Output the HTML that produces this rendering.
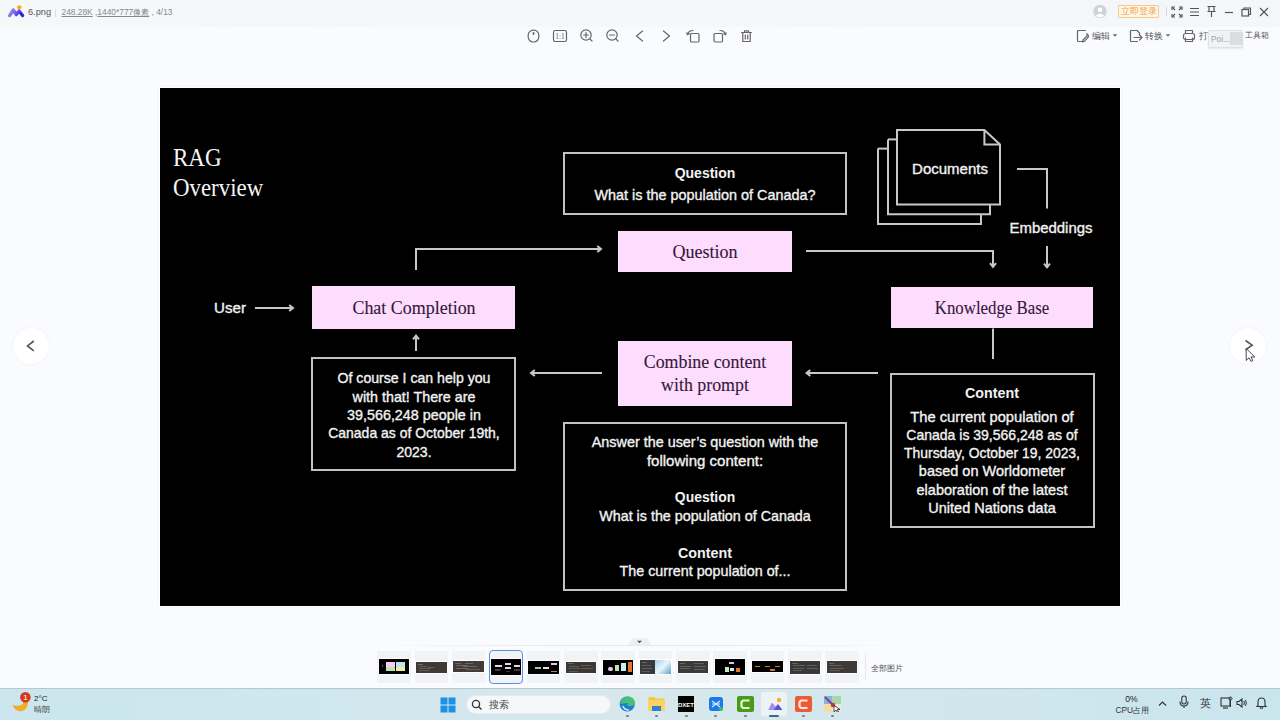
<!DOCTYPE html>
<html><head><meta charset="utf-8"><style>
html,body{margin:0;padding:0;}
body{width:1280px;height:720px;overflow:hidden;position:relative;background:#fafbfe;font-family:'Liberation Sans', sans-serif;}
.t{position:absolute;white-space:nowrap;}
.sw{-webkit-text-stroke:0.35px currentColor;}
.sf{-webkit-text-stroke:0.1px currentColor;}
</style></head><body>
<div style="position:absolute;left:0px;top:0px;width:1280px;height:27px;box-sizing:border-box;background:linear-gradient(90deg,#f6f7f9 0%,#f4f8fa 30%,#f4f8f8 60%,#f4f7fa 100%);"></div><svg style="position:absolute;left:4px;top:2px;" width="24" height="18" viewBox="0 0 24 18"><defs><linearGradient id="lg1" x1="0" x2="1" y1="0" y2="0.3"><stop offset="0" stop-color="#958cf4"/><stop offset="0.55" stop-color="#6f62ee"/><stop offset="1" stop-color="#3424c8"/></linearGradient></defs><circle cx="15.3" cy="5.3" r="2.1" fill="#f7a81b"/><path d="M5.6 13.6 L9.3 8 L12.3 12.6 L15 9 L18.6 13.6" fill="none" stroke="url(#lg1)" stroke-width="3.3" stroke-linejoin="round" stroke-linecap="round"/></svg><div style="position:absolute;left:28px;top:8.3px;font-size:9.2px;line-height:9.2px;color:#555;white-space:nowrap;">6.png</div><div style="position:absolute;left:55px;top:9px;width:1px;height:8px;box-sizing:border-box;background:#dcdde0;"></div><div style="position:absolute;left:61.5px;top:8.3px;font-size:8.4px;line-height:8.4px;color:#85888c;white-space:nowrap;"><u>248.28K</u> ,<u>1440*777像素</u> , 4/13</div><svg style="position:absolute;left:1092px;top:4px;" width="16" height="15" viewBox="0 0 16 15"><circle cx="8" cy="7.4" r="6.7" fill="#cdd1d8"/><circle cx="8" cy="5.8" r="2.4" fill="#fff"/><path d="M3.6 11.8 Q8 7.6 12.4 11.8 Q8 14.8 3.6 11.8Z" fill="#fff"/></svg><div style="position:absolute;left:1118.3px;top:5.2px;width:40.3px;height:13.2px;box-sizing:border-box;border:1px solid #f7c98a;background:#fff6e8;border-radius:1px;"></div><div style="position:absolute;left:1121px;top:6.5px;font-size:9px;line-height:9px;color:#f0a43a;white-space:nowrap;">立即登录</div><div style="position:absolute;left:1165.5px;top:7px;width:1px;height:9px;box-sizing:border-box;background:#d8d9dc;"></div><svg style="position:absolute;left:1171px;top:6px;" width="12" height="12" viewBox="0 0 12 12"><g fill="none" stroke="#555" stroke-width="1.2"><path d="M1 4V1H4M8 1H11V4M11 8V11H8M4 11H1V8"/><path d="M1.5 1.5L4 4M10.5 1.5L8 4M10.5 10.5L8 8M1.5 10.5L4 8"/></g></svg><svg style="position:absolute;left:1189px;top:6px;" width="11" height="12" viewBox="0 0 11 12"><g fill="none" stroke="#555" stroke-width="1.2"><path d="M1 2.5H10M1 6H10M1 9.5H10"/></g></svg><svg style="position:absolute;left:1206px;top:5px;" width="11" height="13" viewBox="0 0 11 13"><g fill="none" stroke="#555" stroke-width="1.2"><path d="M1.5 1.5H9.5M3 1.5V6M8 1.5V6M1.5 6.5H9.5M5.5 6.5V12"/></g></svg><svg style="position:absolute;left:1224px;top:6px;" width="10" height="12" viewBox="0 0 10 12"><g fill="none" stroke="#555" stroke-width="1.2"><path d="M1 6.5H9"/></g></svg><svg style="position:absolute;left:1241px;top:7px;" width="11" height="10" viewBox="0 0 11 10"><g fill="none" stroke="#555" stroke-width="1.2"><rect x="1" y="2.5" width="6.5" height="6.5"/><path d="M3 2.5V1H9.5V7.5H7.5"/></g></svg><svg style="position:absolute;left:1258px;top:6px;" width="12" height="12" viewBox="0 0 12 12"><g fill="none" stroke="#555" stroke-width="1.2"><path d="M2 2L10 10M10 2L2 10"/></g></svg><svg style="position:absolute;left:526px;top:28px;" width="15" height="16" viewBox="0 0 15 16"><g fill="none" stroke="#666" stroke-width="1.2" stroke-linecap="round" stroke-linejoin="round"><rect x="2.2" y="2.2" width="10.6" height="11.8" rx="5"/><path d="M7.5 4.5V6.5"/></g><circle cx="7.5" cy="5.5" r="1" fill="#666"/></svg><svg style="position:absolute;left:552px;top:28px;" width="16" height="16" viewBox="0 0 16 16"><g fill="none" stroke="#666" stroke-width="1.2" stroke-linecap="round" stroke-linejoin="round"><rect x="1.5" y="2.5" width="13" height="11" rx="1.8"/></g><text x="8" y="11.3" font-size="7.5" text-anchor="middle" fill="#666" font-family="Liberation Serif">1:1</text></svg><svg style="position:absolute;left:579px;top:28px;" width="16" height="16" viewBox="0 0 16 16"><g fill="none" stroke="#666" stroke-width="1.2" stroke-linecap="round" stroke-linejoin="round"><circle cx="7" cy="7" r="5.2"/><path d="M7 4.6V9.4M4.6 7H9.4M10.8 10.8L13 13"/></g></svg><svg style="position:absolute;left:605px;top:28px;" width="16" height="16" viewBox="0 0 16 16"><g fill="none" stroke="#666" stroke-width="1.2" stroke-linecap="round" stroke-linejoin="round"><circle cx="7" cy="7" r="5.2"/><path d="M4.6 7H9.4M10.8 10.8L13 13"/></g></svg><svg style="position:absolute;left:632px;top:28px;" width="15" height="16" viewBox="0 0 15 16"><g fill="none" stroke="#666" stroke-width="1.2" stroke-linecap="round" stroke-linejoin="round"><path d="M10.5 3L4.5 8L10.5 13"/></g></svg><svg style="position:absolute;left:659px;top:28px;" width="15" height="16" viewBox="0 0 15 16"><g fill="none" stroke="#666" stroke-width="1.2" stroke-linecap="round" stroke-linejoin="round"><path d="M4.5 3L10.5 8L4.5 13"/></g></svg><svg style="position:absolute;left:685px;top:28px;" width="16" height="16" viewBox="0 0 16 16"><g fill="none" stroke="#666" stroke-width="1.2" stroke-linecap="round" stroke-linejoin="round"><rect x="5.5" y="5.5" width="8.5" height="8.5" rx="1.2"/><path d="M2.5 6.5 Q3.5 2.5 8 2.5"/><path d="M1.8 4.8 L2.5 6.8 L4.3 5.6"/></g></svg><svg style="position:absolute;left:712px;top:28px;" width="16" height="16" viewBox="0 0 16 16"><g fill="none" stroke="#666" stroke-width="1.2" stroke-linecap="round" stroke-linejoin="round"><rect x="2" y="5.5" width="8.5" height="8.5" rx="1.2"/><path d="M13.5 6.5 Q12.5 2.5 8 2.5"/><path d="M14.2 4.8 L13.5 6.8 L11.7 5.6"/></g></svg><svg style="position:absolute;left:739px;top:28px;" width="15" height="16" viewBox="0 0 15 16"><g fill="none" stroke="#666" stroke-width="1.2" stroke-linecap="round" stroke-linejoin="round"><path d="M2.5 4.5H12.5M5.5 4.5V2.8H9.5V4.5M3.8 4.5V13.5H11.2V4.5M6.3 7V11M8.7 7V11"/></g></svg><svg style="position:absolute;left:1076px;top:29px;" width="13" height="14" viewBox="0 0 13 14"><g fill="none" stroke="#666" stroke-width="1.2" stroke-linecap="round" stroke-linejoin="round"><path d="M9.5 1.5H2.5Q1.5 1.5 1.5 2.5V11.5Q1.5 12.5 2.5 12.5H6"/><path d="M11 4.5V6"/><path d="M12 6L7 11L6.5 12.8L8.3 12.3L13 7.5Z"/></g></svg><div style="position:absolute;left:1092px;top:31.6px;font-size:8.9px;line-height:8.9px;color:#555;white-space:nowrap;">编辑</div><svg style="position:absolute;left:1112px;top:33px;" width="6" height="5" viewBox="0 0 6 5"><path d="M0.8 1.2H5.2L3 3.8Z" fill="#666"/></svg><svg style="position:absolute;left:1129px;top:29px;" width="15" height="14" viewBox="0 0 15 14"><g fill="none" stroke="#666" stroke-width="1.2" stroke-linecap="round" stroke-linejoin="round"><path d="M8 1.5H2.5Q1.5 1.5 1.5 2.5V11.5Q1.5 12.5 2.5 12.5H8.5"/><path d="M8 1.5L10.5 4V6"/><path d="M5 8.5H13M10.5 6L13 8.5L10.5 11"/></g></svg><div style="position:absolute;left:1144.6px;top:31.6px;font-size:8.9px;line-height:8.9px;color:#555;white-space:nowrap;">转换</div><svg style="position:absolute;left:1165px;top:33px;" width="6" height="5" viewBox="0 0 6 5"><path d="M0.8 1.2H5.2L3 3.8Z" fill="#666"/></svg><svg style="position:absolute;left:1182px;top:29px;" width="14" height="14" viewBox="0 0 14 14"><g fill="none" stroke="#666" stroke-width="1.2" stroke-linecap="round" stroke-linejoin="round"><path d="M3.5 4.5V1.5H10.5V4.5"/><rect x="1.5" y="4.5" width="11" height="6" rx="2"/><path d="M3.5 9V12.5H10.5V9"/></g></svg><div style="position:absolute;left:1198.5px;top:31.6px;font-size:8.9px;line-height:8.9px;color:#555;white-space:nowrap;">打印</div><div style="position:absolute;left:1208.3px;top:30.2px;width:34.7px;height:17.5px;box-sizing:border-box;background:#f1f2f3;border:1px solid #dfe1e4;border-radius:2px;box-shadow:0 1px 2px rgba(0,0,0,0.08);"></div><div style="position:absolute;left:1211px;top:34.6px;font-size:8.3px;line-height:8.3px;color:#a0a0a0;white-space:nowrap;">Poi...</div><div style="position:absolute;left:1230px;top:32px;width:12.5px;height:13px;box-sizing:border-box;background:#dcdddf;"></div><div style="position:absolute;left:1244.5px;top:31.8px;font-size:8.2px;line-height:8.2px;color:#555;white-space:nowrap;">工具箱</div><div style="position:absolute;left:13px;top:328px;width:36px;height:36px;box-sizing:border-box;border-radius:50%;background:#fff;box-shadow:0 0 3px rgba(0,0,0,0.06);"></div><svg style="position:absolute;left:24px;top:338px;" width="14" height="16" viewBox="0 0 14 16"><path d="M9.8 3L3.5 7.9L9.8 12.8" fill="none" stroke="#555" stroke-width="1.6"/></svg><div style="position:absolute;left:1230.4px;top:327.5px;width:36px;height:36px;box-sizing:border-box;border-radius:50%;background:#fff;box-shadow:0 0 3px rgba(0,0,0,0.06);"></div><svg style="position:absolute;left:1242px;top:337px;" width="14" height="16" viewBox="0 0 14 16"><path d="M3.5 3.5L10.2 8.2L3.5 12.8" fill="none" stroke="#555" stroke-width="1.6"/></svg><svg style="position:absolute;left:1245px;top:347px;" width="12" height="16" viewBox="0 0 12 16"><path d="M1.2 1.5V13.5L4 10.8L6 14.5L7.8 13.6L6 10H9.8Z" fill="#fff" stroke="#333" stroke-width="0.9"/></svg><svg style="position:absolute;left:626px;top:637px" width="27" height="9"><path d="M1.5 8.5 L6 1.5 H21 L25.5 8.5Z" fill="#eceef2"/><path d="M11 3.8H16L13.5 6.3Z" fill="#555"/></svg><div style="position:absolute;left:360px;top:645px;width:560px;height:1px;box-sizing:border-box;background:linear-gradient(90deg,rgba(228,231,236,0) 0%,#e6e9ed 35%,#e6e9ed 65%,rgba(228,231,236,0) 100%);"></div><div style="position:absolute;left:377.25px;top:651.3px;width:33.5px;height:31.5px;box-sizing:border-box;background:#f2f3f5;"></div><div style="position:absolute;left:378.75px;top:659px;width:30.5px;height:15.4px;box-sizing:border-box;background:#000;overflow:hidden;box-shadow:0 0 0 1px #fff;"><div style="position:absolute;left:7.5px;top:3px;width:9px;height:4.6px;background:#f6cdf0;"></div><div style="position:absolute;left:16.8px;top:3px;width:9px;height:4.6px;background:#bfe2f4;"></div><div style="position:absolute;left:7.5px;top:7.9px;width:9px;height:4.6px;background:#b9e6ae;"></div><div style="position:absolute;left:16.8px;top:7.9px;width:9px;height:4.6px;background:#f4ec9c;"></div><div style="position:absolute;left:3px;top:6px;width:1.5px;height:2px;background:#555;"></div></div><div style="position:absolute;left:414.6px;top:651.3px;width:33.5px;height:31.5px;box-sizing:border-box;background:#f2f3f5;"></div><div style="position:absolute;left:416.1px;top:662px;width:30.5px;height:10.5px;box-sizing:border-box;background:#403a37;overflow:hidden;box-shadow:0 0 0 1px #fff;"><div style="position:absolute;left:1.5px;top:1.5px;width:5px;height:1px;background:rgba(195,190,185,0.40)"></div><div style="position:absolute;left:3px;top:4px;width:8px;height:1px;background:rgba(195,190,185,0.28)"></div><div style="position:absolute;left:12px;top:4.5px;width:6px;height:1px;background:rgba(195,190,185,0.28)"></div><div style="position:absolute;left:3px;top:6px;width:12px;height:1px;background:rgba(195,190,185,0.24)"></div><div style="position:absolute;left:3px;top:8px;width:10px;height:1px;background:rgba(195,190,185,0.24)"></div></div><div style="position:absolute;left:451.95px;top:651.3px;width:33.5px;height:31.5px;box-sizing:border-box;background:#f2f3f5;"></div><div style="position:absolute;left:453.45px;top:661px;width:30.5px;height:11px;box-sizing:border-box;background:#423d38;overflow:hidden;box-shadow:0 0 0 1px #fff;"><div style="position:absolute;left:2px;top:1.5px;width:6px;height:1px;background:rgba(195,190,185,0.32)"></div><div style="position:absolute;left:12px;top:1.5px;width:8px;height:1px;background:rgba(195,190,185,0.32)"></div><div style="position:absolute;left:3px;top:4px;width:12px;height:1px;background:rgba(195,190,185,0.32)"></div><div style="position:absolute;left:10px;top:5px;width:14px;height:1px;background:rgba(195,190,185,0.32)"></div><div style="position:absolute;left:3px;top:7px;width:12px;height:1px;background:rgba(195,190,185,0.32)"></div><div style="position:absolute;left:13px;top:8px;width:14px;height:1px;background:rgba(195,190,185,0.28)"></div></div><div style="position:absolute;left:489.3px;top:651.3px;width:33.5px;height:31.5px;box-sizing:border-box;background:#f2f3f5;"></div><div style="position:absolute;left:490.8px;top:659px;width:30.5px;height:16px;box-sizing:border-box;background:#000;overflow:hidden;box-shadow:0 0 0 1px #fff;"><div style="position:absolute;left:4px;top:5.8px;width:7px;height:2.2px;background:#e8d4e6;"></div><div style="position:absolute;left:14px;top:4px;width:6px;height:2px;background:#e8d4e6;"></div><div style="position:absolute;left:14px;top:8px;width:6px;height:2px;background:#e8d4e6;"></div><div style="position:absolute;left:23px;top:5.8px;width:6.5px;height:2.2px;background:#e8d4e6;"></div><div style="position:absolute;left:4.5px;top:9.5px;width:6px;height:1px;background:#444;"></div><div style="position:absolute;left:4.5px;top:11px;width:5px;height:1px;background:#3a3a3a;"></div><div style="position:absolute;left:23.5px;top:9.5px;width:6px;height:2.5px;background:#3a3a3a;"></div><div style="position:absolute;left:15px;top:11.5px;width:4px;height:1px;background:#3a3a3a;"></div></div><div style="position:absolute;left:526.65px;top:651.3px;width:33.5px;height:31.5px;box-sizing:border-box;background:#f2f3f5;"></div><div style="position:absolute;left:528.15px;top:660.7px;width:30.5px;height:13.2px;box-sizing:border-box;background:#000;overflow:hidden;box-shadow:0 0 0 1px #fff;"><div style="position:absolute;left:7px;top:6px;width:6px;height:2px;background:#a8c8a0"></div><div style="position:absolute;left:15px;top:6px;width:6px;height:2px;background:#e8e0e8"></div><div style="position:absolute;left:23px;top:2px;width:6px;height:2px;background:#e8c8e8"></div><div style="position:absolute;left:23px;top:10px;width:6px;height:1px;background:#c87a30"></div></div><div style="position:absolute;left:564.0px;top:651.3px;width:33.5px;height:31.5px;box-sizing:border-box;background:#f2f3f5;"></div><div style="position:absolute;left:565.5px;top:661.5px;width:30.5px;height:11.5px;box-sizing:border-box;background:#3c3835;overflow:hidden;box-shadow:0 0 0 1px #fff;"><div style="position:absolute;left:2px;top:1.5px;width:6px;height:1px;background:rgba(195,190,185,0.32)"></div><div style="position:absolute;left:3px;top:4px;width:10px;height:1px;background:rgba(195,190,185,0.28)"></div><div style="position:absolute;left:15px;top:3px;width:10px;height:1px;background:rgba(195,190,185,0.28)"></div><div style="position:absolute;left:3px;top:6.5px;width:11px;height:1px;background:rgba(195,190,185,0.28)"></div><div style="position:absolute;left:15px;top:6px;width:12px;height:1px;background:rgba(195,190,185,0.28)"></div><div style="position:absolute;left:3px;top:9px;width:9px;height:1px;background:rgba(195,190,185,0.24)"></div></div><div style="position:absolute;left:601.35px;top:651.3px;width:33.5px;height:31.5px;box-sizing:border-box;background:#f2f3f5;"></div><div style="position:absolute;left:602.85px;top:660px;width:30.5px;height:14.8px;box-sizing:border-box;background:#000;overflow:hidden;box-shadow:0 0 0 1px #fff;"><div style="position:absolute;left:5px;top:7px;width:5px;height:4px;background:#f0c8f0;border-radius:2px"></div><div style="position:absolute;left:12px;top:5px;width:4px;height:6px;background:#b8e8b0"></div><div style="position:absolute;left:18px;top:3px;width:5px;height:8px;background:#c8f0f8"></div><div style="position:absolute;left:25px;top:2px;width:4px;height:10px;background:#e07828"></div></div><div style="position:absolute;left:638.7px;top:651.3px;width:33.5px;height:31.5px;box-sizing:border-box;background:#f2f3f5;"></div><div style="position:absolute;left:640.2px;top:660px;width:30.5px;height:14px;box-sizing:border-box;background:#3a3a3a;overflow:hidden;box-shadow:0 0 0 1px #fff;"><div style="position:absolute;left:15px;top:0;width:15.5px;height:14px;background:linear-gradient(135deg,#9fd0ee,#e9f6fb 50%,#5aa0d0)"></div><div style="position:absolute;left:1.5px;top:2px;width:5px;height:1px;background:rgba(195,190,185,0.32)"></div><div style="position:absolute;left:2px;top:5px;width:9px;height:1px;background:rgba(195,190,185,0.28)"></div><div style="position:absolute;left:2px;top:8px;width:10px;height:1px;background:rgba(195,190,185,0.28)"></div><div style="position:absolute;left:2px;top:10.5px;width:8px;height:1px;background:rgba(195,190,185,0.24)"></div></div><div style="position:absolute;left:676.05px;top:651.3px;width:33.5px;height:31.5px;box-sizing:border-box;background:#f2f3f5;"></div><div style="position:absolute;left:677.55px;top:661px;width:30.5px;height:12px;box-sizing:border-box;background:#3c3a38;overflow:hidden;box-shadow:0 0 0 1px #fff;"><div style="position:absolute;left:2px;top:1.5px;width:5px;height:1px;background:rgba(195,190,185,0.32)"></div><div style="position:absolute;left:16px;top:2px;width:10px;height:1px;background:rgba(195,190,185,0.28)"></div><div style="position:absolute;left:2px;top:4.5px;width:11px;height:1px;background:rgba(195,190,185,0.28)"></div><div style="position:absolute;left:16px;top:5px;width:12px;height:1px;background:rgba(195,190,185,0.28)"></div><div style="position:absolute;left:2px;top:7px;width:10px;height:1px;background:rgba(195,190,185,0.28)"></div><div style="position:absolute;left:16px;top:8px;width:11px;height:1px;background:rgba(195,190,185,0.28)"></div></div><div style="position:absolute;left:713.4000000000001px;top:651.3px;width:33.5px;height:31.5px;box-sizing:border-box;background:#f2f3f5;"></div><div style="position:absolute;left:714.9000000000001px;top:659px;width:30.5px;height:15.8px;box-sizing:border-box;background:#000;overflow:hidden;box-shadow:0 0 0 1px #fff;"><div style="position:absolute;left:14px;top:3px;width:5px;height:2px;background:#e8c0e8"></div><div style="position:absolute;left:10px;top:8px;width:4px;height:5px;background:#c8e8c0"></div><div style="position:absolute;left:15px;top:9px;width:4px;height:3px;background:#d0f0f0"></div><div style="position:absolute;left:21px;top:8.5px;width:4px;height:4px;background:#e07828"></div></div><div style="position:absolute;left:750.75px;top:651.3px;width:33.5px;height:31.5px;box-sizing:border-box;background:#f2f3f5;"></div><div style="position:absolute;left:752.25px;top:661.4px;width:30.5px;height:10.6px;box-sizing:border-box;background:#000;overflow:hidden;box-shadow:0 0 0 1px #fff;"><div style="position:absolute;left:3px;top:4.5px;width:5px;height:1.5px;background:#d07a28"></div><div style="position:absolute;left:13px;top:4.5px;width:5px;height:1.5px;background:#d07a28"></div><div style="position:absolute;left:23px;top:4.5px;width:5px;height:1.5px;background:#d07a28"></div><div style="position:absolute;left:18px;top:8px;width:5px;height:1.5px;background:#d07a28"></div></div><div style="position:absolute;left:788.1px;top:651.3px;width:33.5px;height:31.5px;box-sizing:border-box;background:#f2f3f5;"></div><div style="position:absolute;left:789.6px;top:661px;width:30.5px;height:12.7px;box-sizing:border-box;background:#3b3937;overflow:hidden;box-shadow:0 0 0 1px #fff;"><div style="position:absolute;left:2px;top:1.5px;width:6px;height:1px;background:rgba(195,190,185,0.32)"></div><div style="position:absolute;left:3px;top:4px;width:12px;height:1px;background:rgba(195,190,185,0.28)"></div><div style="position:absolute;left:17px;top:4px;width:10px;height:1px;background:rgba(195,190,185,0.28)"></div><div style="position:absolute;left:3px;top:6.5px;width:11px;height:1px;background:rgba(195,190,185,0.28)"></div><div style="position:absolute;left:17px;top:7px;width:11px;height:1px;background:rgba(195,190,185,0.28)"></div><div style="position:absolute;left:3px;top:9px;width:9px;height:1px;background:rgba(195,190,185,0.24)"></div></div><div style="position:absolute;left:825.45px;top:651.3px;width:33.5px;height:31.5px;box-sizing:border-box;background:#f2f3f5;"></div><div style="position:absolute;left:826.95px;top:661px;width:30.5px;height:12px;box-sizing:border-box;background:#3e3a36;overflow:hidden;box-shadow:0 0 0 1px #fff;"><div style="position:absolute;left:2px;top:1.5px;width:5px;height:1px;background:rgba(195,190,185,0.32)"></div><div style="position:absolute;left:3px;top:4px;width:12px;height:1px;background:rgba(195,190,185,0.28)"></div><div style="position:absolute;left:3px;top:6.5px;width:14px;height:1px;background:rgba(195,190,185,0.28)"></div><div style="position:absolute;left:3px;top:9px;width:10px;height:1px;background:rgba(195,190,185,0.24)"></div></div><div style="position:absolute;left:488.75px;top:650.25px;width:34px;height:34.2px;box-sizing:border-box;border:1.5px solid #5b8def;border-radius:4px;"></div><div style="position:absolute;left:864.5px;top:653px;width:1px;height:27px;box-sizing:border-box;background:#e8e9ec;"></div><div style="position:absolute;left:870.5px;top:664.5px;font-size:8px;line-height:8px;color:#555;white-space:nowrap;">全部图片</div><div style="position:absolute;left:0px;top:688px;width:1280px;height:32px;box-sizing:border-box;background:linear-gradient(90deg,#cbe6ee 0%,#d0e7ee 30%,#d8e8ec 50%,#d2e7ed 70%,#c9e5ed 100%);border-top:1px solid #b9c6cc;"></div><svg style="position:absolute;left:0px;top:688px;" width="40" height="32" viewBox="0 0 40 32"><defs><linearGradient id="wg" x1="0" y1="0" x2="1" y2="1"><stop offset="0" stop-color="#f59a2a"/><stop offset="1" stop-color="#f2b81f"/></linearGradient></defs><path d="M12.5 17.2 Q16 24.5 22.5 23 Q27.8 21 28.2 14 L23.5 13.5 Q23 19.5 12.5 17.2Z" fill="url(#wg)"/><circle cx="25.4" cy="9.3" r="5.3" fill="#d23b1c"/><text x="25.6" y="12.2" font-size="8" text-anchor="middle" fill="#fff" font-family="Liberation Sans">1</text></svg><div style="position:absolute;left:34px;top:694.5px;font-size:8px;line-height:8px;color:#222;white-space:nowrap;">2°C</div><div style="position:absolute;left:34px;top:705.5px;font-size:8px;line-height:8px;color:#444;white-space:nowrap;">晴朗</div><svg style="position:absolute;left:440px;top:697px;" width="16" height="16" viewBox="0 0 16 16"><rect x="0.5" y="0.5" width="7" height="7" fill="#1e90e8"/><rect x="8.5" y="0.5" width="7" height="7" fill="#1e90e8"/><rect x="0.5" y="8.5" width="7" height="7" fill="#1e90e8"/><rect x="8.5" y="8.5" width="7" height="7" fill="#1e90e8"/></svg><div style="position:absolute;left:466px;top:694.7px;width:144.7px;height:19.6px;box-sizing:border-box;background:#f5f8f9;border-radius:10px;border:1px solid #e6ebee;"></div><svg style="position:absolute;left:471px;top:699px;" width="12" height="12" viewBox="0 0 12 12"><circle cx="5" cy="5" r="3.6" fill="none" stroke="#333" stroke-width="1.3"/><path d="M7.7 7.7L10.5 10.5" stroke="#333" stroke-width="1.4"/></svg><div style="position:absolute;left:489px;top:699.5px;font-size:9.5px;line-height:9.5px;color:#444;white-space:nowrap;">搜索</div><svg style="position:absolute;left:619px;top:696px;" width="17" height="16" viewBox="0 0 17 16"><circle cx="8.2" cy="8" r="7.6" fill="#1f7ed3"/><path d="M1 8 Q3 1 9 0.6 Q15.5 1 16 7 Q16 10 12 10 Q8 10.5 8.5 8 Q9 6 12 6.5" fill="#46c074"/><path d="M4 10 Q5 14 10 14" stroke="#bfe6f8" stroke-width="1.6" fill="none"/></svg><svg style="position:absolute;left:648px;top:696px;" width="17" height="16" viewBox="0 0 17 16"><path d="M0.5 2 Q0.5 1 1.5 1 H6 L7.5 2.5 H15.5 Q16.5 2.5 16.5 3.5 V15 H0.5Z" fill="#f6c744"/><path d="M0.5 4 H16.5 V15 H0.5Z" fill="#fcd35c"/><rect x="4" y="10" width="9" height="5" fill="#2f80d0"/></svg><svg style="position:absolute;left:678px;top:696px;" width="16" height="16" viewBox="0 0 16 16"><rect width="16" height="16" fill="#000"/><text x="8" y="11" font-size="6" text-anchor="middle" fill="#fff" font-family="Liberation Sans" font-weight="bold">DXET</text></svg><svg style="position:absolute;left:708.5px;top:697px;" width="14" height="14" viewBox="0 0 14 14"><rect width="14" height="14" rx="3" fill="#1a7ae8"/><path d="M3 4 L11 10 M3 10 L11 4 M3 7 H11" stroke="#cfe6ff" stroke-width="1.2"/><circle cx="12" cy="12" r="2" fill="#3bbf6a"/></svg><svg style="position:absolute;left:736.5px;top:696px;" width="17" height="16" viewBox="0 0 17 16"><rect width="17" height="16" rx="2" fill="#4a9a1a"/><path d="M12.5 4.5 H6 L4.5 6 V10.5 L6 12 H12.5" fill="none" stroke="#e8f8d0" stroke-width="2.2"/></svg><div style="position:absolute;left:761.4px;top:692.2px;width:25.3px;height:23.8px;box-sizing:border-box;background:#ecf3f6;border-radius:3px;"></div><svg style="position:absolute;left:766.5px;top:697px;" width="17" height="14" viewBox="0 0 17 14"><circle cx="12" cy="3" r="2.2" fill="#f5b21f"/><path d="M1.5 13 L5 6 L8.5 10 L11 7 L15.5 13Z" fill="#5e4fd8"/><path d="M5 6 L8.5 10 L7 13 L1.5 13Z" fill="#9b8ff2"/></svg><div style="position:absolute;left:769px;top:715px;width:10px;height:1.8px;box-sizing:border-box;background:#2c6f86;border-radius:1px;"></div><svg style="position:absolute;left:795px;top:696px;" width="17" height="16" viewBox="0 0 17 16"><rect width="17" height="16" rx="2" fill="#f05a32"/><path d="M12.5 4.5 H6 L4.5 6 V10.5 L6 12 H12.5" fill="none" stroke="#ffe8e0" stroke-width="2.2"/></svg><svg style="position:absolute;left:824px;top:696px;" width="17" height="16" viewBox="0 0 17 16"><rect x="0" y="0" width="8.5" height="8" fill="#7ab8e8"/><rect x="8.5" y="0" width="8.5" height="8" fill="#a8d8a8"/><rect x="0" y="8" width="8.5" height="8" fill="#f2dca8"/><rect x="8.5" y="8" width="8.5" height="8" fill="#e8e8e0"/><path d="M1 1 L9 9" stroke="#a03a6a" stroke-width="2"/><circle cx="9" cy="9" r="2.2" fill="#d03030"/><path d="M10 9.5 V16 L12 14 L13.5 16.5 L14.5 16 L13.2 13.5 H16Z" fill="#fff" stroke="#111" stroke-width="0.7"/></svg><div style="position:absolute;left:626.0px;top:715px;width:3px;height:1.5px;box-sizing:border-box;background:#7a7f84;border-radius:1px;"></div><div style="position:absolute;left:655.0px;top:715px;width:3px;height:1.5px;box-sizing:border-box;background:#7a7f84;border-radius:1px;"></div><div style="position:absolute;left:684.5px;top:715px;width:3px;height:1.5px;box-sizing:border-box;background:#7a7f84;border-radius:1px;"></div><div style="position:absolute;left:714.0px;top:715px;width:3px;height:1.5px;box-sizing:border-box;background:#7a7f84;border-radius:1px;"></div><div style="position:absolute;left:743.5px;top:715px;width:3px;height:1.5px;box-sizing:border-box;background:#7a7f84;border-radius:1px;"></div><div style="position:absolute;left:802.0px;top:715px;width:3px;height:1.5px;box-sizing:border-box;background:#7a7f84;border-radius:1px;"></div><div style="position:absolute;left:831.0px;top:715px;width:3px;height:1.5px;box-sizing:border-box;background:#7a7f84;border-radius:1px;"></div><div style="position:absolute;left:1125.3px;top:695px;font-size:8.6px;line-height:8.6px;color:#222;white-space:nowrap;">0%</div><div style="position:absolute;left:1115.5px;top:706px;font-size:8.3px;line-height:8.3px;color:#333;white-space:nowrap;">CPU占用</div><svg style="position:absolute;left:1158px;top:700px;" width="9" height="7" viewBox="0 0 9 7"><path d="M1 5.5 L4.5 2 L8 5.5" fill="none" stroke="#333" stroke-width="1.2"/></svg><svg style="position:absolute;left:1179px;top:695px;" width="10" height="14" viewBox="0 0 10 14"><rect x="2.8" y="1" width="4.4" height="8" rx="2.2" fill="none" stroke="#333" stroke-width="1.1"/><path d="M1 6.5 Q1 11 5 11 Q9 11 9 6.5 M5 11 V13" fill="none" stroke="#333" stroke-width="1.1"/></svg><div style="position:absolute;left:1199.5px;top:698px;font-size:11px;line-height:11px;color:#333;white-space:nowrap;">英</div><svg style="position:absolute;left:1220px;top:696px;" width="13" height="13" viewBox="0 0 13 13"><rect x="1" y="2" width="9" height="8" fill="none" stroke="#333" stroke-width="1.1"/><path d="M3 12 H8" stroke="#333" stroke-width="1.2"/><circle cx="10.5" cy="2.5" r="1.5" fill="none" stroke="#333" stroke-width="1"/><path d="M10.5 4 V11" stroke="#333" stroke-width="1"/></svg><svg style="position:absolute;left:1236px;top:698px;" width="11" height="10" viewBox="0 0 11 10"><path d="M1 3.5 H3 L6 1 V9 L3 6.5 H1Z" fill="none" stroke="#333" stroke-width="1.1"/><path d="M7.8 3 Q9 5 7.8 7 M9.5 2 Q11 5 9.5 8" fill="none" stroke="#333" stroke-width="1"/></svg><svg style="position:absolute;left:1256px;top:696px;" width="11" height="13" viewBox="0 0 11 13"><path d="M2 9.5 V6 Q2 2 5.5 2 Q9 2 9 6 V9.5 L10 10.5 H1Z M4 11.5 Q5.5 13 7 11.5" fill="none" stroke="#333" stroke-width="1.1"/></svg>
<div style="position:absolute;left:160px;top:88px;width:960px;height:518px;box-sizing:border-box;background:#000;box-shadow:0 0 0 1px #ffffff, 0 0 3px 1px rgba(0,0,0,0.05);"></div><div style="position:absolute;left:563px;top:152px;width:283.6px;height:63.4px;box-sizing:border-box;border:2px solid #c2c2c2;"></div><div style="position:absolute;left:618px;top:230.7px;width:174.2px;height:41.8px;box-sizing:border-box;background:#fedcfe;"></div><div style="position:absolute;left:312px;top:286.2px;width:203px;height:42.6px;box-sizing:border-box;background:#fedcfe;"></div><div style="position:absolute;left:890.8px;top:286.9px;width:202.7px;height:41.6px;box-sizing:border-box;background:#fedcfe;"></div><div style="position:absolute;left:617.8px;top:341px;width:174.4px;height:64.5px;box-sizing:border-box;background:#fedcfe;"></div><div style="position:absolute;left:311.3px;top:357px;width:205px;height:114px;box-sizing:border-box;border:2px solid #c2c2c2;"></div><div style="position:absolute;left:563px;top:422px;width:284px;height:168.5px;box-sizing:border-box;border:2px solid #c2c2c2;"></div><div style="position:absolute;left:890px;top:372.5px;width:204.6px;height:155.5px;box-sizing:border-box;border:2px solid #c2c2c2;"></div><svg width="1280" height="720" style="position:absolute;left:0;top:0" fill="none" stroke="#c8c8c8" stroke-width="2" stroke-linejoin="miter"><path d="M255,308 L293,308"/><path d="M289.2,305.0 L293,308 L289.2,311.0"/><path d="M416,270 L416,249 L601,249"/><path d="M597.2,246.0 L601,249 L597.2,252.0"/><path d="M806,251 L993,251 L993,267"/><path d="M990.0,263.2 L993,267 L996.0,263.2"/><path d="M1017,169 L1047,169 L1047,208.5"/><path d="M1047,246 L1047,267.5"/><path d="M1044.0,263.7 L1047,267.5 L1050.0,263.7"/><path d="M993,328.5 L993,359"/><path d="M878,373 L806.5,373"/><path d="M810.3,370.0 L806.5,373 L810.3,376.0"/><path d="M602,373 L531,373"/><path d="M534.8,370.0 L531,373 L534.8,376.0"/><path d="M416,351 L416,335.5"/><path d="M413.0,339.3 L416,335.5 L419.0,339.3"/><path d="M878,148.6 L878,224 L981,224 L981,214.3"/><path d="M878,148.6 L888,148.6"/><path d="M888,139.4 L888,214.3 L990,214.3 L990,204.6"/><path d="M888,139.4 L897,139.4"/><path d="M897,130 L984.4,130 L1000,144.5 L1000,204.6 L897,204.6 Z"/><path d="M984.4,130 L984.4,144.5 L1000,144.5"/></svg><div class="t" style="left:172.50px;top:144.66px;font-size:25px;line-height:25px;font-family:'Liberation Serif', serif;font-weight:400;color:#f5f5f5;transform:scaleX(0.92);transform-origin:left top;">RAG</div><div class="t" style="left:172.50px;top:174.66px;font-size:25px;line-height:25px;font-family:'Liberation Serif', serif;font-weight:400;color:#f5f5f5;transform:scaleX(0.915);transform-origin:left top;">Overview</div><div class="t sw" style="left:229.80px;top:301.28px;font-size:14.2px;line-height:14.2px;font-family:'Liberation Sans', sans-serif;font-weight:400;color:#f2f2f2;transform:translateX(-50%) scaleX(1.0631074035453598);transform-origin:center top;">User</div><div class="t" style="left:704.80px;top:165.95px;font-size:14px;line-height:14px;font-family:'Liberation Sans', sans-serif;font-weight:700;color:#f2f2f2;transform:translateX(-50%) scaleX(1.0010569147566315);transform-origin:center top;">Question</div><div class="t sw" style="left:705.00px;top:188.41px;font-size:14.4px;line-height:14.4px;font-family:'Liberation Sans', sans-serif;font-weight:400;color:#f2f2f2;transform:translateX(-50%) scaleX(1.000794791961506);transform-origin:center top;">What is the population of Canada?</div><div class="t sf" style="left:705.30px;top:242.09px;font-size:19px;line-height:19px;font-family:'Liberation Serif', serif;font-weight:400;color:#33183a;transform:translateX(-50%) scaleX(0.95);transform-origin:center top;">Question</div><div class="t sf" style="left:413.50px;top:298.09px;font-size:19px;line-height:19px;font-family:'Liberation Serif', serif;font-weight:400;color:#33183a;transform:translateX(-50%) scaleX(0.945);transform-origin:center top;">Chat Completion</div><div class="t sf" style="left:992.00px;top:298.09px;font-size:19px;line-height:19px;font-family:'Liberation Serif', serif;font-weight:400;color:#33183a;transform:translateX(-50%) scaleX(0.885);transform-origin:center top;">Knowledge Base</div><div class="t sf" style="left:705.00px;top:352.29px;font-size:19px;line-height:19px;font-family:'Liberation Serif', serif;font-weight:400;color:#33183a;transform:translateX(-50%) scaleX(0.94);transform-origin:center top;">Combine content</div><div class="t sf" style="left:705.00px;top:375.09px;font-size:19px;line-height:19px;font-family:'Liberation Serif', serif;font-weight:400;color:#33183a;transform:translateX(-50%) scaleX(0.94);transform-origin:center top;">with prompt</div><div class="t sw" style="left:949.60px;top:161.94px;font-size:14.6px;line-height:14.6px;font-family:'Liberation Sans', sans-serif;font-weight:400;color:#f2f2f2;transform:translateX(-50%) scaleX(1.0284301439458086);transform-origin:center top;">Documents</div><div class="t sw" style="left:1051.10px;top:221.34px;font-size:14.6px;line-height:14.6px;font-family:'Liberation Sans', sans-serif;font-weight:400;color:#f2f2f2;transform:translateX(-50%) scaleX(1.023260543038706);transform-origin:center top;">Embeddings</div><div class="t sw" style="left:413.60px;top:371.38px;font-size:14.2px;line-height:14.2px;font-family:'Liberation Sans', sans-serif;font-weight:400;color:#f2f2f2;transform:translateX(-50%) scaleX(0.9941684445799045);transform-origin:center top;">Of course I can help you</div><div class="t sw" style="left:413.60px;top:389.68px;font-size:14.2px;line-height:14.2px;font-family:'Liberation Sans', sans-serif;font-weight:400;color:#f2f2f2;transform:translateX(-50%) scaleX(1.0066863071602408);transform-origin:center top;">with that! There are</div><div class="t sw" style="left:413.60px;top:407.98px;font-size:14.2px;line-height:14.2px;font-family:'Liberation Sans', sans-serif;font-weight:400;color:#f2f2f2;transform:translateX(-50%) scaleX(1.0102086525993164);transform-origin:center top;">39,566,248 people in</div><div class="t sw" style="left:413.60px;top:426.28px;font-size:14.2px;line-height:14.2px;font-family:'Liberation Sans', sans-serif;font-weight:400;color:#f2f2f2;transform:translateX(-50%) scaleX(0.9838651846539979);transform-origin:center top;">Canada as of October 19th,</div><div class="t sw" style="left:413.60px;top:444.58px;font-size:14.2px;line-height:14.2px;font-family:'Liberation Sans', sans-serif;font-weight:400;color:#f2f2f2;transform:translateX(-50%) scaleX(0.9911130664320282);transform-origin:center top;">2023.</div><div class="t sw" style="left:705.00px;top:435.01px;font-size:14.4px;line-height:14.4px;font-family:'Liberation Sans', sans-serif;font-weight:400;color:#f2f2f2;transform:translateX(-50%) scaleX(0.9993106300841031);transform-origin:center top;">Answer the user’s question with the</div><div class="t sw" style="left:705.00px;top:453.81px;font-size:14.4px;line-height:14.4px;font-family:'Liberation Sans', sans-serif;font-weight:400;color:#f2f2f2;transform:translateX(-50%) scaleX(1.0449346634818042);transform-origin:center top;">following content:</div><div class="t" style="left:705.00px;top:490.45px;font-size:14px;line-height:14px;font-family:'Liberation Sans', sans-serif;font-weight:700;color:#f2f2f2;transform:translateX(-50%) scaleX(0.9931290239505537);transform-origin:center top;">Question</div><div class="t sw" style="left:705.00px;top:508.71px;font-size:14.4px;line-height:14.4px;font-family:'Liberation Sans', sans-serif;font-weight:400;color:#f2f2f2;transform:translateX(-50%) scaleX(0.9938325991189427);transform-origin:center top;">What is the population of Canada</div><div class="t" style="left:705.00px;top:545.55px;font-size:14px;line-height:14px;font-family:'Liberation Sans', sans-serif;font-weight:700;color:#f2f2f2;transform:translateX(-50%) scaleX(1.0223929098966027);transform-origin:center top;">Content</div><div class="t sw" style="left:705.00px;top:563.81px;font-size:14.4px;line-height:14.4px;font-family:'Liberation Sans', sans-serif;font-weight:400;color:#f2f2f2;transform:translateX(-50%) scaleX(0.9941860465116279);transform-origin:center top;">The current population of...</div><div class="t" style="left:992.20px;top:386.45px;font-size:14px;line-height:14px;font-family:'Liberation Sans', sans-serif;font-weight:700;color:#f2f2f2;transform:translateX(-50%) scaleX(1.0205211225997046);transform-origin:center top;">Content</div><div class="t sw" style="left:992.20px;top:409.98px;font-size:14.2px;line-height:14.2px;font-family:'Liberation Sans', sans-serif;font-weight:400;color:#f2f2f2;transform:translateX(-50%) scaleX(1.0351822503961965);transform-origin:center top;">The current population of</div><div class="t sw" style="left:992.20px;top:428.13px;font-size:14.2px;line-height:14.2px;font-family:'Liberation Sans', sans-serif;font-weight:400;color:#f2f2f2;transform:translateX(-50%) scaleX(0.987629422886468);transform-origin:center top;">Canada is 39,566,248 as of</div><div class="t sw" style="left:992.20px;top:446.28px;font-size:14.2px;line-height:14.2px;font-family:'Liberation Sans', sans-serif;font-weight:400;color:#f2f2f2;transform:translateX(-50%) scaleX(0.9796884518318685);transform-origin:center top;">Thursday, October 19, 2023,</div><div class="t sw" style="left:992.20px;top:464.43px;font-size:14.2px;line-height:14.2px;font-family:'Liberation Sans', sans-serif;font-weight:400;color:#f2f2f2;transform:translateX(-50%) scaleX(1.0210687022900764);transform-origin:center top;">based on Worldometer</div><div class="t sw" style="left:992.20px;top:482.58px;font-size:14.2px;line-height:14.2px;font-family:'Liberation Sans', sans-serif;font-weight:400;color:#f2f2f2;transform:translateX(-50%) scaleX(1.023728813559322);transform-origin:center top;">elaboration of the latest</div><div class="t sw" style="left:992.20px;top:500.73px;font-size:14.2px;line-height:14.2px;font-family:'Liberation Sans', sans-serif;font-weight:400;color:#f2f2f2;transform:translateX(-50%) scaleX(1.0230692076228687);transform-origin:center top;">United Nations data</div>
</body></html>
